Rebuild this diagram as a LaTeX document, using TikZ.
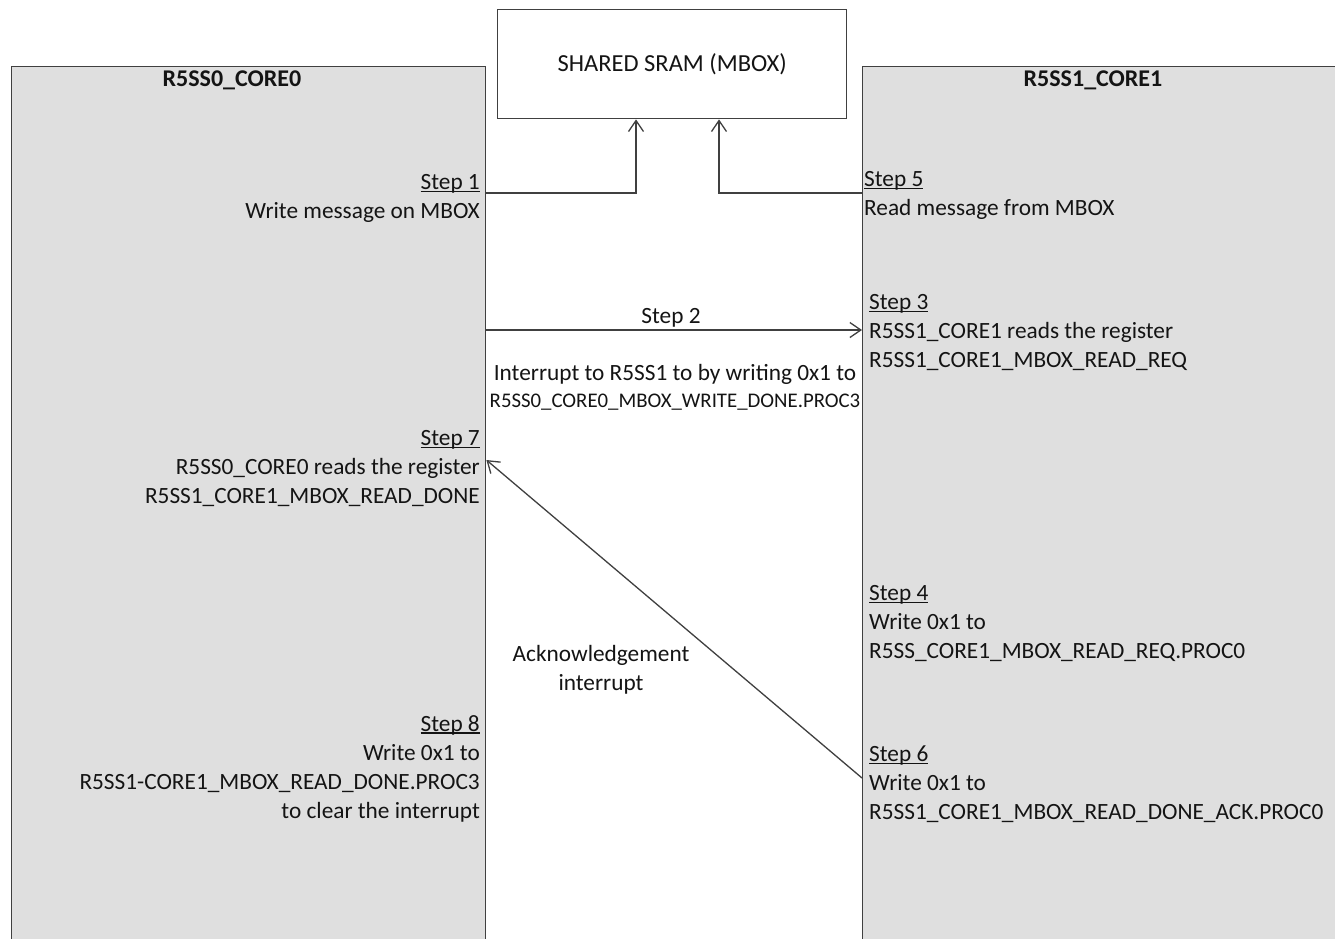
\documentclass[tikz,border=0pt]{standalone}
\usepackage{fontspec}
\setmainfont{Carlito}
\usetikzlibrary{arrows.meta}
\definecolor{corefill}{HTML}{DFDFDF}
\definecolor{linec}{HTML}{404040}
\definecolor{txt}{HTML}{141414}
\newcommand\stepul[1]{\setbox0\hbox{#1}\rlap{\rule[-2.5pt]{\wd0}{1.3pt}}#1}
\begin{document}
\begin{tikzpicture}[x=1pt,y=-1pt,
  core/.style={draw=linec, fill=corefill, line width=1.4pt, inner sep=0, anchor=north west},
  sram/.style={draw=linec, fill=white, line width=1.4pt, inner sep=0, anchor=north west},
  arr/.style={draw=linec, line width=1.3pt, -{Straight Barb[length=11pt,width=15pt,line width=1.3pt]}},
  base/.style={text=txt, inner sep=0, font=\fontsize{23.3}{29}\selectfont},
  ltxt/.style={base, anchor=north east, align=right},
  rtxt/.style={base, anchor=north west, align=left},
  ctitle/.style={text=txt, inner sep=0, font=\fontsize{24}{28}\selectfont\bfseries}
]
\clip (0,0) rectangle (1335,938);
\fill[white] (0,0) rectangle (1335,938);

\node[core, minimum width=474pt, minimum height=900pt] (c0) at (11,66) {};
\node[core, minimum width=520pt, minimum height=900pt] (c1) at (862,66) {};
\node[sram, minimum width=349pt, minimum height=109pt] (sram) at (497,9) {};
\node[base, font=\fontsize{24.5}{28}\selectfont] (sramlbl) at (sram.center) {SHARED SRAM (MBOX)};

\node[ctitle, anchor=base] (t0) at (232,86) {R5SS0\_CORE0};
\node[ctitle, anchor=base] (t1) at (1093,86) {R5SS1\_CORE1};

% left column texts
\node[ltxt] (s1) at (480,174) {\stepul{Step 1}\\Write message on MBOX};
\node[ltxt] (s7) at (480,430) {\stepul{Step 7}\\R5SS0\_CORE0 reads the register\\R5SS1\_CORE1\_MBOX\_READ\_DONE};
\node[ltxt] (s8) at (480,715) {\stepul{Step 8}\\Write 0x1 to\\R5SS1-CORE1\_MBOX\_READ\_DONE.PROC3\\to clear the interrupt};

% right column texts
\node[rtxt] (s5) at (864,171) {\stepul{Step 5}\\Read message from MBOX};
\node[rtxt] (s3) at (869,294) {\stepul{Step 3}\\R5SS1\_CORE1 reads the register\\R5SS1\_CORE1\_MBOX\_READ\_REQ};
\node[rtxt] (s4) at (869,585) {\stepul{Step 4}\\Write 0x1 to\\R5SS\_CORE1\_MBOX\_READ\_REQ.PROC0};
\node[rtxt] (s6) at (869,746) {\stepul{Step 6}\\Write 0x1 to\\R5SS1\_CORE1\_MBOX\_READ\_DONE\_ACK.PROC0};

% middle texts
\node[base, anchor=base] (s2) at (671,323) {Step 2};
\node[base, anchor=base] (int1) at (675,380) {Interrupt to R5SS1 to by writing 0x1 to};
\node[base, anchor=base, font=\fontsize{20.8}{24}\selectfont] (int2) at (675,407) {R5SS0\_CORE0\_MBOX\_WRITE\_DONE.PROC3};
\node[base, anchor=north, align=center] (ack) at (601,645) {Acknowledgement\\interrupt};

% connectors
\draw[arr] (c0.east |- 0,193) -| (sram.south -| 636,0);
\draw[arr] (c1.west |- 0,193) -| (sram.south -| 719,0);
\draw[arr] (c0.east |- 0,330) -- (c1.west |- 0,330);
\draw[arr] (c1.west |- 0,778) -- (c0.east |- 0,460);
\end{tikzpicture}
\end{document}
